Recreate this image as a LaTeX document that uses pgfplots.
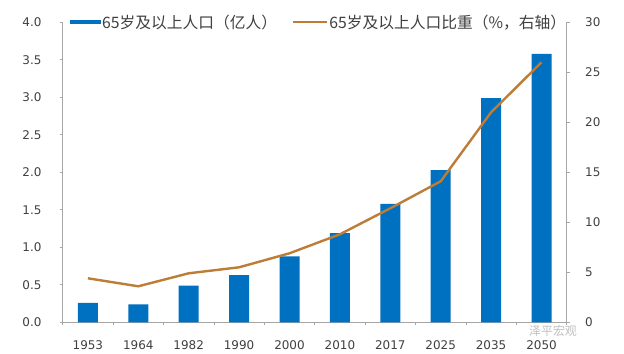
\documentclass[border=0pt]{standalone}
\usepackage{pgfplots}
\usepackage{pgfplotstable}
\pgfplotsset{compat=1.18}
\usepackage{fontspec}
\setmainfont{DejaVu Sans}
\newfontfamily\cjk{Noto Sans CJK SC}
\definecolor{barblue}{RGB}{0,112,192}
\definecolor{lineor}{RGB}{190,125,55}
\definecolor{axgray}{RGB}{166,166,166}
\definecolor{txt}{RGB}{64,64,64}

\pgfplotstableread{
x val pct
0 0.26 4.4
1 0.24 3.6
2 0.49 4.9
3 0.63 5.5
4 0.88 6.9
5 1.19 8.8
6 1.58 11.4
7 2.03 14.1
8 2.99 21.0
9 3.58 26.0
}\data

\begin{document}
\begin{tikzpicture}
\path[use as bounding box, fill=white] (0bp,0bp) rectangle (624bp,354bp);
\begin{axis}[
  at={(62.7bp,31.7bp)}, anchor=south west,
  scale only axis, width=504bp, height=300bp,
  xmin=-0.5, xmax=9.5, ymin=0, ymax=4,
  axis y line*=left, axis x line*=bottom,
  axis line style={draw=axgray, line width=0.8bp},
  xtick={0,...,9},
  xticklabels={1953,1964,1982,1990,2000,2010,2017,2025,2035,2050},
  major x tick style={draw=none},
  minor xtick={-0.5,0.5,...,9.5},
  minor x tick style={draw=axgray, line width=0.8bp},
  minor tick length=3bp,
  ytick={0,0.5,...,4},
  major tick length=3bp,
  tick align=outside,
  y tick style={draw=axgray, line width=0.8bp},
  /pgf/number format/assume math mode=true,
  yticklabel style={/pgf/number format/fixed, /pgf/number format/fixed zerofill, /pgf/number format/precision=1, xshift=-14.7bp},
  xticklabel style={yshift=-12bp},
  tick label style={font=\fontsize{12}{12}\selectfont, text=txt},
  legend style={at={(0.0145,1)}, anchor=west, draw=none, fill=none,
    font=\cjk\fontsize{15.8}{15.8}\selectfont, text=txt, inner sep=0pt,
    /tikz/every even column/.append style={column sep=14bp},
    nodes={inner sep=1bp}},
  legend columns=2,
  clip=false,
]
\addplot[ybar, bar width=20bp, fill=barblue, draw=none,
  legend image code/.code={\fill[barblue] (0bp,-2bp) rectangle (31bp,2bp);}]
  table[x=x, y=val]{\data};
\addlegendentry{65岁及以上人口（亿人）}
\addlegendimage{lineor, line width=2.4bp, legend image code/.code={\draw[lineor, line width=2.4bp] (0bp,0bp) -- (34bp,0bp);}}
\addlegendentry{65岁及以上人口比重（\%，右轴）}
\draw[black, line width=3bp] (axis description cs:-0.095,1.0875) -- (axis description cs:1.0899,1.0875);
\end{axis}
\begin{axis}[
  at={(62.7bp,31.7bp)}, anchor=south west,
  scale only axis, width=504bp, height=300bp,
  xmin=-0.5, xmax=9.5, ymin=0, ymax=30,
  axis y line*=right, axis x line=none,
  axis line style={draw=axgray, line width=0.8bp},
  ytick={0,5,...,30},
  major tick length=3bp,
  tick align=outside,
  y tick style={draw=axgray, line width=0.8bp},
  /pgf/number format/assume math mode=true,
  yticklabel style={xshift=12bp},
  tick label style={font=\fontsize{12}{12}\selectfont, text=txt},
  clip=false,
]
\addplot[lineor, line width=2.4bp, no marks] table[x=x, y=pct]{\data};
\end{axis}
\node[text=gray!50, font=\cjk\fontsize{12}{12}\selectfont] at (553bp,23bp) {泽平宏观};
\end{tikzpicture}
\end{document}
